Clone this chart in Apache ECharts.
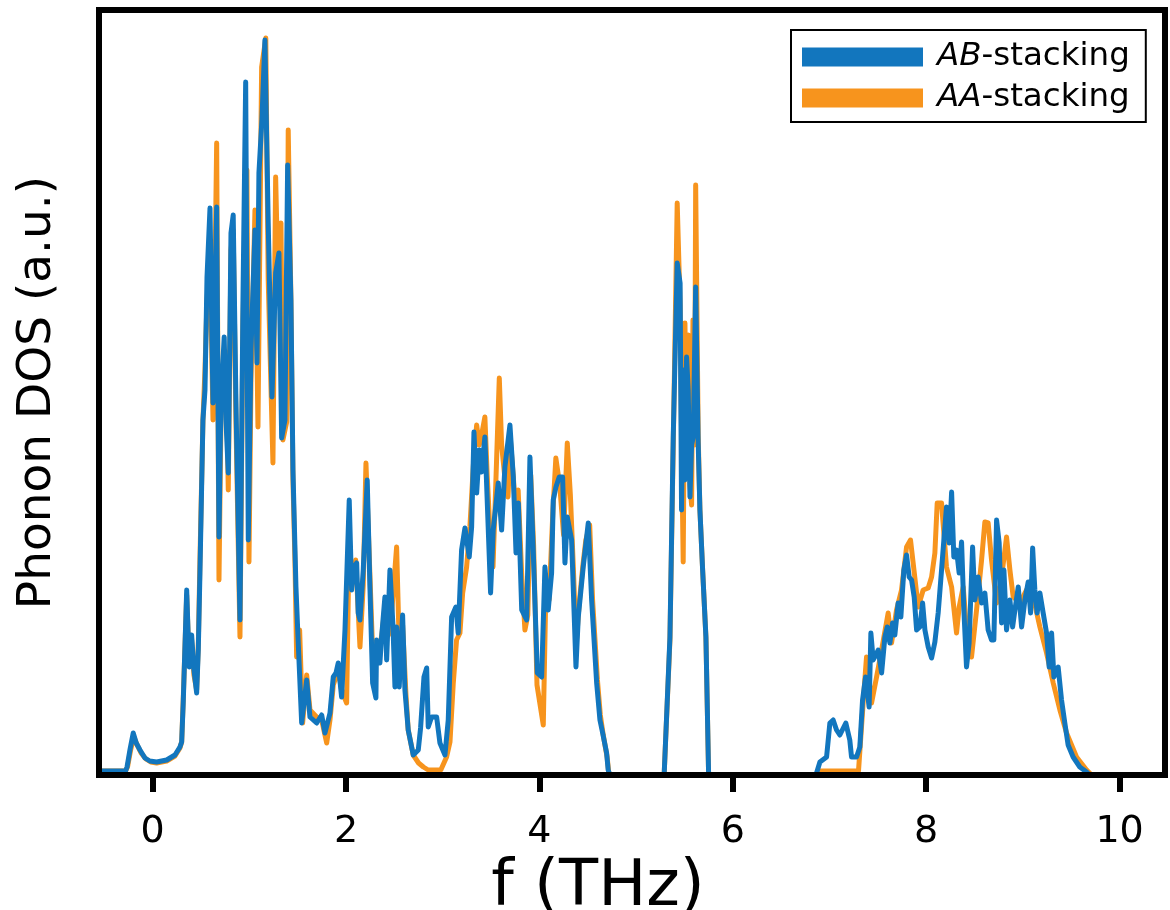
<!DOCTYPE html>
<html>
<head>
<meta charset="utf-8">
<script src="https://cdn.jsdelivr.net/npm/echarts@6/dist/echarts.min.js"></script>
<style>
  html, body { margin: 0; padding: 0; background: #fff; }
  #chart { width: 1170px; height: 910px; }
</style>
</head>
<body>
<div id="chart"></div>
<script>
// Phonon density of states, [frequency (THz), DOS (a.u.)]
const abStacking = [
  [-0.60,4],[-0.28,4],[-0.265,8],[-0.235,25],[-0.201,42],[-0.17,32],[-0.131,25],[-0.08,17],[-0.03,14],
  [0.041,13],[0.145,15],[0.231,20],[0.282,28],[0.300,33],[0.316,72],[0.352,185],[0.378,108],[0.403,140],
  [0.427,105],[0.455,82],[0.472,125],[0.489,202],[0.520,355],[0.541,385],[0.562,498],[0.593,567],[0.624,372],
  [0.662,568],[0.686,238],[0.706,375],[0.740,438],[0.758,355],[0.782,302],[0.810,542],[0.833,560],[0.861,375],
  [0.903,155],[0.934,475],[0.962,693],[0.989,235],[1.017,425],[1.058,545],[1.079,412],[1.099,602],[1.130,655],
  [1.161,735],[1.195,552],[1.234,378],[1.272,502],[1.306,522],[1.334,337],[1.368,355],[1.396,610],[1.430,475],
  [1.451,305],[1.482,188],[1.503,138],[1.541,52],[1.593,95],[1.627,58],[1.696,52],[1.748,60],[1.782,42],
  [1.834,62],[1.868,98],[1.896,102],[1.919,112],[1.954,78],[1.989,145],[2.033,275],[2.058,185],[2.082,208],
  [2.110,212],[2.126,162],[2.144,155],[2.178,205],[2.219,295],[2.247,188],[2.275,92],[2.309,77],[2.316,135],
  [2.350,112],[2.368,138],[2.402,178],[2.420,115],[2.454,205],[2.485,150],[2.506,88],[2.523,148],[2.550,88],
  [2.585,160],[2.609,85],[2.643,45],[2.695,20],[2.747,25],[2.771,47],[2.806,98],[2.834,107],[2.850,48],
  [2.885,58],[2.937,58],[2.971,32],[3.023,20],[3.057,55],[3.092,158],[3.136,168],[3.160,142],[3.195,225],
  [3.230,247],[3.274,218],[3.299,248],[3.323,343],[3.351,282],[3.378,325],[3.402,303],[3.436,338],[3.495,182],
  [3.522,245],[3.574,292],[3.609,245],[3.643,308],[3.695,350],[3.730,298],[3.758,222],[3.782,272],[3.817,165],
  [3.868,155],[3.902,318],[3.936,225],[3.978,102],[4.023,98],[4.057,208],[4.091,165],[4.126,202],[4.143,275],
  [4.171,288],[4.205,298],[4.240,298],[4.264,212],[4.288,258],[4.333,235],[4.378,108],[4.402,158],[4.453,208],
  [4.505,252],[4.540,175],[4.592,92],[4.626,55],[4.654,42],[4.695,22],[4.711,5],[4.73,0],
  [5.29,0],[5.350,138],[5.384,338],[5.425,512],[5.455,492],[5.470,265],[5.487,405],[5.504,295],[5.522,418],
  [5.539,385],[5.557,278],[5.574,330],[5.591,338],[5.616,488],[5.642,332],[5.660,265],[5.688,205],[5.722,138],
  [5.75,0],
  [6.86,0],[6.901,13],[6.970,18],[7.004,52],[7.038,55],[7.073,45],[7.107,40],[7.169,52],[7.210,35],[7.228,18],
  [7.280,18],[7.314,28],[7.342,75],[7.373,98],[7.410,68],[7.428,142],[7.452,115],[7.504,125],[7.539,102],
  [7.573,138],[7.597,148],[7.625,132],[7.652,152],[7.676,140],[7.710,172],[7.738,158],[7.769,205],[7.797,220],
  [7.824,198],[7.849,195],[7.876,178],[7.901,145],[7.935,148],[7.963,172],[7.987,145],[8.021,128],[8.056,117],
  [8.090,133],[8.124,162],[8.159,205],[8.183,235],[8.210,268],[8.238,232],[8.263,283],[8.286,218],[8.314,225],
  [8.341,202],[8.366,233],[8.390,165],[8.417,108],[8.444,132],[8.480,228],[8.503,175],[8.538,198],[8.573,172],
  [8.607,182],[8.641,145],[8.676,135],[8.700,135],[8.728,255],[8.755,232],[8.780,152],[8.804,205],[8.831,145],
  [8.866,175],[8.894,148],[8.928,172],[8.952,188],[8.987,148],[9.021,175],[9.055,193],[9.080,162],[9.101,227],
  [9.124,185],[9.148,162],[9.176,182],[9.210,162],[9.245,142],[9.272,108],[9.297,142],[9.321,98],[9.365,108],
  [9.400,75],[9.434,52],[9.468,30],[9.520,18],[9.589,8],[9.659,3],[9.69,0],[10.6,0]
];

const aaStacking = [
  [-0.60,4],[-0.28,4],[-0.26,8],[-0.23,24],[-0.195,38],[-0.16,30],[-0.12,22],[-0.07,16],[-0.02,13],
  [0.041,12],[0.145,14],[0.231,19],[0.282,27],[0.300,33],[0.316,75],[0.352,180],[0.378,110],[0.403,135],
  [0.427,100],[0.455,85],[0.472,130],[0.489,215],[0.520,355],[0.541,405],[0.562,475],[0.593,517],[0.624,355],
  [0.662,632],[0.686,195],[0.706,355],[0.740,425],[0.758,422],[0.782,285],[0.810,525],[0.833,545],[0.861,355],
  [0.903,138],[0.934,455],[0.975,605],[0.996,213],[1.017,395],[1.058,565],[1.089,348],[1.127,708],[1.17,737],
  [1.195,495],[1.244,312],[1.272,598],[1.296,495],[1.327,552],[1.347,335],[1.386,353],[1.402,645],[1.430,475],
  [1.451,295],[1.472,212],[1.489,118],[1.520,145],[1.551,52],[1.593,100],[1.627,65],[1.696,58],[1.748,55],
  [1.80,32],[1.834,55],[1.868,90],[1.919,105],[1.954,85],[2.006,72],[2.033,240],[2.058,190],[2.10,215],
  [2.144,128],[2.178,190],[2.206,312],[2.247,200],[2.28,110],[2.33,120],[2.37,140],[2.41,175],[2.44,140],
  [2.47,160],[2.523,228],[2.55,130],[2.585,150],[2.62,80],[2.643,45],[2.695,20],[2.75,12],[2.80,8],[2.85,5],
  [2.98,5],[3.04,18],[3.075,33],[3.109,92],[3.143,135],[3.178,142],[3.206,182],[3.247,208],[3.281,248],
  [3.323,320],[3.351,350],[3.378,330],[3.402,340],[3.436,358],[3.460,300],[3.495,230],[3.52,208],[3.545,280],
  [3.585,397],[3.609,330],[3.64,300],[3.675,278],[3.70,335],[3.73,298],[3.76,255],[3.78,285],[3.817,200],
  [3.85,145],[3.88,160],[3.91,300],[3.94,230],[3.975,90],[4.04,50],[4.07,200],[4.10,175],[4.14,265],
  [4.17,317],[4.21,290],[4.25,240],[4.288,332],[4.32,280],[4.35,210],[4.38,130],[4.41,170],[4.45,210],
  [4.48,235],[4.52,250],[4.55,175],[4.60,95],[4.63,60],[4.66,40],[4.70,18],[4.72,0],
  [5.29,0],[5.350,135],[5.384,330],[5.425,572],[5.455,470],[5.475,300],[5.487,213],[5.505,452],[5.522,330],
  [5.540,440],[5.557,290],[5.574,270],[5.588,455],[5.605,330],[5.616,590],[5.642,340],[5.660,265],[5.688,205],
  [5.722,138],[5.75,0],
  [6.87,0],[6.88,4],[7.30,4],[7.314,3],[7.348,72],[7.383,118],[7.435,72],[7.487,98],[7.539,125],[7.607,162],
  [7.642,132],[7.693,165],[7.745,185],[7.797,228],[7.838,235],[7.882,198],[7.917,168],[7.969,185],[8.021,187],
  [8.056,198],[8.090,222],[8.114,272],[8.159,272],[8.210,208],[8.263,188],[8.314,142],[8.341,168],[8.383,188],
  [8.434,125],[8.469,118],[8.521,165],[8.573,215],[8.607,253],[8.641,252],[8.676,215],[8.728,172],[8.780,198],
  [8.831,238],[8.866,205],[8.900,178],[8.969,172],[9.038,185],[9.107,178],[9.176,148],[9.245,122],[9.314,92],
  [9.383,65],[9.452,42],[9.555,18],[9.659,5],[9.71,0],[10.6,0]
];

const seriesNames = ['AB-stacking', 'AA-stacking'];
const seriesColors = ['#1276be', '#f7941d'];
const freqTicks = [0, 2, 4, 6, 8, 10];
const freqRange = [-0.555, 10.47];
const dosRange = [0, 765];

const FONT = '"DejaVu Sans", sans-serif';
const frameLine = { show: true, onZero: false, lineStyle: { color: '#000', width: 6, cap: 'square' } };
const hidden = { show: false };

const chart = echarts.init(document.getElementById('chart'), null, { renderer: 'canvas' });

chart.setOption({
  animation: false,
  backgroundColor: '#fff',
  grid: { left: 99, right: 5, top: 10, bottom: 135, containLabel: false, outerBoundsMode: 'none' },
  legend: {
    data: seriesNames,
    orient: 'vertical',
    left: 791,
    top: 30,
    icon: 'rect',
    itemWidth: 121,
    itemHeight: 19,
    itemGap: 5,
    padding: [9, 16, 6, 11],
    backgroundColor: '#fff',
    borderColor: '#000',
    borderWidth: 2,
    borderRadius: 0,
    formatter: function (name) {
      const parts = name.split('-');
      return '{s|}{i|' + parts[0] + '}{n|-' + parts[1] + '}';
    },
    textStyle: {
      color: '#000', fontFamily: FONT, fontSize: 32.5, lineHeight: 36,
      rich: {
        s: { width: 9 },
        i: { fontStyle: 'italic', fontFamily: FONT, fontSize: 32.5, color: '#000', lineHeight: 36 },
        n: { fontFamily: FONT, fontSize: 32.5, color: '#000', lineHeight: 36 }
      }
    }
  },
  xAxis: [
    {
      type: 'value', position: 'bottom', min: freqRange[0], max: freqRange[1], z: 10,
      axisLine: frameLine,
      axisTick: { show: true, inside: false, length: 17, customValues: freqTicks,
                  lineStyle: { color: '#000', width: 6 } },
      axisLabel: { show: true, customValues: freqTicks, margin: 38, color: '#000',
                   fontFamily: FONT, fontSize: 38 },
      splitLine: hidden,
      name: 'f (THz)', nameLocation: 'middle', nameGap: 80,
      nameTextStyle: { color: '#000', fontFamily: FONT, fontSize: 64, padding: [0, 68, 0, 0] }
    },
    {
      type: 'value', position: 'top', min: freqRange[0], max: freqRange[1], z: 10,
      axisLine: frameLine, axisTick: hidden, axisLabel: hidden, splitLine: hidden
    }
  ],
  yAxis: [
    {
      type: 'value', position: 'left', min: dosRange[0], max: dosRange[1], z: 10,
      axisLine: frameLine, axisTick: hidden, axisLabel: hidden, splitLine: hidden,
      name: 'Phonon DOS (a.u.)', nameLocation: 'middle', nameGap: 38, nameRotate: 90,
      nameTextStyle: { color: '#000', fontFamily: FONT, fontSize: 47 }
    },
    {
      type: 'value', position: 'right', min: dosRange[0], max: dosRange[1], z: 10,
      axisLine: frameLine, axisTick: hidden, axisLabel: hidden, splitLine: hidden
    }
  ],
  series: [
    {
      name: seriesNames[1], type: 'line', data: aaStacking,
      xAxisIndex: 0, yAxisIndex: 0, showSymbol: false, symbol: 'none', clip: true,
      color: seriesColors[1],
      lineStyle: { color: seriesColors[1], width: 5, join: 'round', cap: 'round' }
    },
    {
      name: seriesNames[0], type: 'line', data: abStacking,
      xAxisIndex: 0, yAxisIndex: 0, showSymbol: false, symbol: 'none', clip: true,
      color: seriesColors[0],
      lineStyle: { color: seriesColors[0], width: 5, join: 'round', cap: 'round' }
    }
  ]
});
</script>
</body>
</html>
